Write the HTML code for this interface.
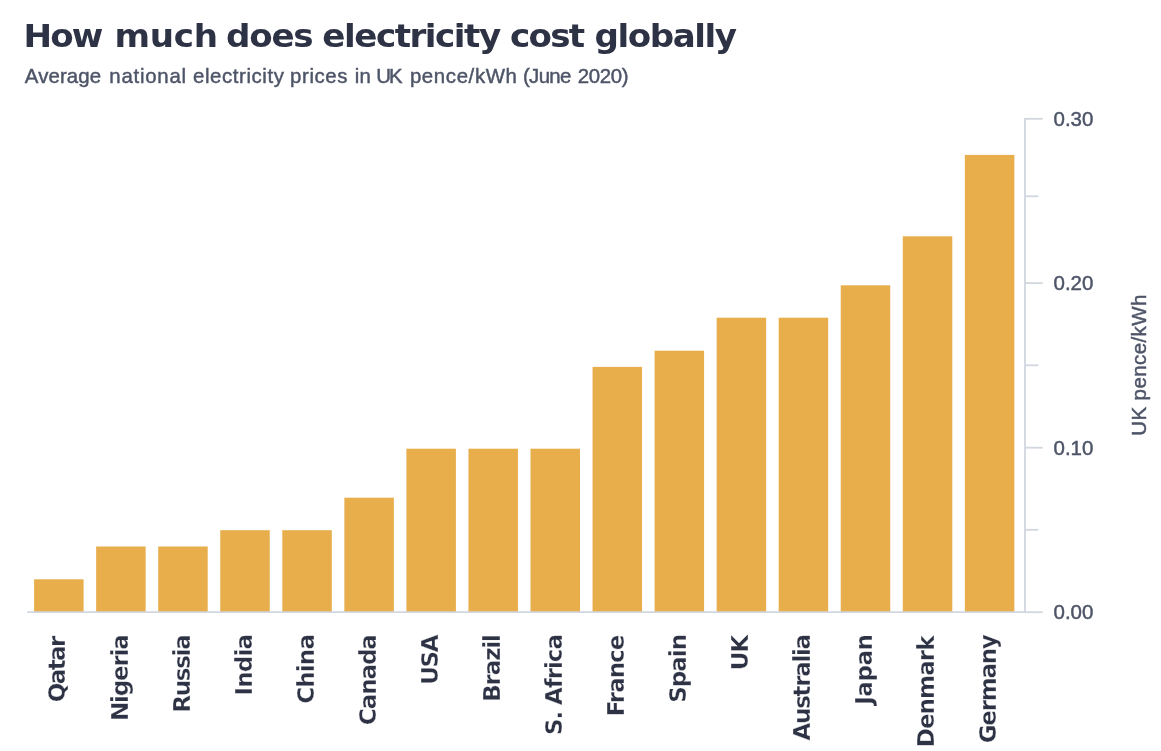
<!DOCTYPE html>
<html lang="en"><head><meta charset="utf-8"><title>How much does electricity cost globally</title>
<style>
html,body{margin:0;padding:0;background:#fff;}
body{width:1161px;height:751px;overflow:hidden;position:relative;font-family:"Liberation Sans",sans-serif;}
svg{position:absolute;left:0;top:0;display:block;}
text{white-space:pre;}
.t{font-family:"DejaVu Sans","Liberation Sans",sans-serif;font-weight:700;fill:#2E3245;font-size:31.6px;}
.s{font-family:"Liberation Sans",sans-serif;font-weight:400;fill:#4E5568;font-size:20.4px;stroke:#4E5568;stroke-width:0.45px;}
.xl{font-family:"DejaVu Sans","Liberation Sans",sans-serif;font-weight:700;fill:#2E3245;font-size:23px;text-anchor:end;stroke:#fff;stroke-width:0.3px;paint-order:fill stroke;}
.yl{font-family:"Liberation Sans",sans-serif;font-weight:400;fill:#4E5568;font-size:20.5px;stroke:#4E5568;stroke-width:0.45px;}
</style></head><body>
<svg width="1161" height="751" viewBox="0 0 1161 751">
<text class="t" y="47.3" transform="scale(1.080 1)"><tspan x="21.85" letter-spacing="-1.798">How </tspan><tspan x="106.11" letter-spacing="-0.257">much </tspan><tspan x="209.17" letter-spacing="-1.092">does </tspan><tspan x="298.43" letter-spacing="-1.355">electricity </tspan><tspan x="472.31" letter-spacing="-1.626">cost </tspan><tspan x="550.46" letter-spacing="-1.340">globally</tspan></text>
<text class="s" y="82.8"><tspan x="24.80" letter-spacing="0.122">Average </tspan><tspan x="109.30" letter-spacing="0.761">national </tspan><tspan x="193.10" letter-spacing="0.580">electricity </tspan><tspan x="290.10" letter-spacing="0.600">prices </tspan><tspan x="354.70" letter-spacing="0.300">in </tspan><tspan x="376.30" letter-spacing="-1.900">UK </tspan><tspan x="409.90" letter-spacing="0.630">pence/kWh </tspan><tspan x="523.00" letter-spacing="-0.675">(June </tspan><tspan x="577.70" letter-spacing="-0.350">2020)</tspan></text>
<g fill="#E8AE4C">
<rect x="34.10" y="579.3" width="49.5" height="32.9"/>
<rect x="96.15" y="546.5" width="49.5" height="65.7"/>
<rect x="158.20" y="546.5" width="49.5" height="65.7"/>
<rect x="220.25" y="530.2" width="49.5" height="82.0"/>
<rect x="282.30" y="530.2" width="49.5" height="82.0"/>
<rect x="344.35" y="497.7" width="49.5" height="114.5"/>
<rect x="406.40" y="448.7" width="49.5" height="163.5"/>
<rect x="468.45" y="448.7" width="49.5" height="163.5"/>
<rect x="530.50" y="448.7" width="49.5" height="163.5"/>
<rect x="592.55" y="366.9" width="49.5" height="245.3"/>
<rect x="654.60" y="350.7" width="49.5" height="261.5"/>
<rect x="716.65" y="317.7" width="49.5" height="294.5"/>
<rect x="778.70" y="317.7" width="49.5" height="294.5"/>
<rect x="840.75" y="285.3" width="49.5" height="326.9"/>
<rect x="902.80" y="236.3" width="49.5" height="375.9"/>
<rect x="964.85" y="154.9" width="49.5" height="457.3"/>
</g>
<g stroke="#D1D6DF" stroke-width="1.8" fill="none">
<path d="M27.2 612.2 H1025 V117.9"/>
<path d="M1025 118.8 H1042.7"/>
<path d="M1025 196.3 H1038.5"/>
<path d="M1025 283.1 H1042.7"/>
<path d="M1025 365.3 H1038.5"/>
<path d="M1025 447.7 H1042.7"/>
<path d="M1025 529.8 H1038.5"/>
<path d="M1025 612.2 H1042.7"/>
</g>
<text class="yl" x="1053.5" y="125.8">0.30</text>
<text class="yl" x="1053.5" y="290.1">0.20</text>
<text class="yl" x="1053.5" y="454.7">0.10</text>
<text class="yl" x="1053.5" y="619.2">0.00</text>
<text class="xl" transform="translate(65.4 637.14) rotate(-90)" letter-spacing="-1.553">Qatar</text>
<text class="xl" transform="translate(127.5 635.38) rotate(-90)" letter-spacing="-1.193">Nigeria</text>
<text class="xl" transform="translate(189.5 635.63) rotate(-90)" letter-spacing="-1.315">Russia</text>
<text class="xl" transform="translate(251.6 634.73) rotate(-90)" letter-spacing="-0.824">India</text>
<text class="xl" transform="translate(313.6 634.88) rotate(-90)" letter-spacing="-0.819">China</text>
<text class="xl" transform="translate(375.7 635.14) rotate(-90)" letter-spacing="-1.049">Canada</text>
<text class="xl" transform="translate(437.7 635.73) rotate(-90)" letter-spacing="-1.360">USA</text>
<text class="xl" transform="translate(499.8 635.18) rotate(-90)" letter-spacing="-1.164">Brazil</text>
<text class="xl" transform="translate(561.8 635.14) rotate(-90)" letter-spacing="-1.071">S. Africa</text>
<text class="xl" transform="translate(623.9 635.77) rotate(-90)" letter-spacing="-1.021">France</text>
<text class="xl" transform="translate(685.9 634.78) rotate(-90)" letter-spacing="-0.958">Spain</text>
<text class="xl" transform="translate(748.0 635.79) rotate(-90)" letter-spacing="-1.071">UK</text>
<text class="xl" transform="translate(810.0 635.20) rotate(-90)" letter-spacing="-1.311">Australia</text>
<text class="xl" transform="translate(872.1 634.51) rotate(-90)" letter-spacing="-0.443">Japan</text>
<text class="xl" transform="translate(934.1 636.44) rotate(-90)" letter-spacing="-0.913">Denmark</text>
<text class="xl" transform="translate(996.2 635.46) rotate(-90)" letter-spacing="-1.264">Germany</text>
<text class="yl" text-anchor="middle" transform="translate(1146 365.0) rotate(-90)" letter-spacing="0.400">UK pence/kWh</text>
</svg>
</body></html>
